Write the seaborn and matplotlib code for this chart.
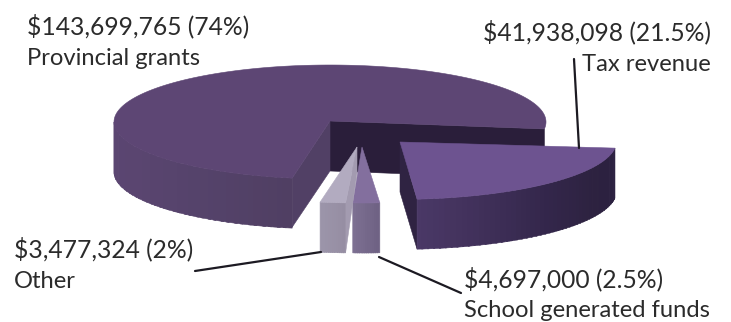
import numpy as np
import matplotlib
matplotlib.use("Agg")
import matplotlib.pyplot as plt
from matplotlib.patches import Polygon
import seaborn as sns

# Revenue sources in dollars, clockwise from the back right of the pie
categories = ["Tax revenue", "School generated funds", "Other", "Provincial grants"]
amounts = [41938098, 4697000, 3477324, 143699765]
amount_labels = ["$41,938,098 (21.5%)", "$4,697,000 (2.5%)", "$3,477,324 (2%)", "$143,699,765 (74%)"]

sns.set_theme(style="white")
plt.rcParams["font.family"] = ["Lato", "DejaVu Sans"]

fig, ax = plt.subplots(figsize=(7.31, 3.22), dpi=100)
ax.set_position([0, 0, 1, 1])
ax.set_xlim(0, 731)
ax.set_ylim(322, 0)
ax.axis("off")

# Angle range of every slice, running clockwise from the starting angle
START_ANGLE = -7.0
sweeps = np.array(amounts) / np.sum(amounts) * 360.0
ends = START_ANGLE - np.cumsum(sweeps)
starts = ends + sweeps
angle_range = dict(zip(categories, zip(starts, ends)))


def rim(cx, cy, rx, ry, a0, a1, n=120):
    t = np.radians(np.linspace(a0, a1, n))
    return np.column_stack([cx + rx * np.cos(t), cy - ry * np.sin(t)])


def fill(points, color, z):
    ax.add_patch(Polygon(points, closed=True, facecolor=color, edgecolor=color, lw=0.4, zorder=z))


def shaded_wall(edge, depth, colors, z):
    # Outer wall built from narrow strips so the shade runs along the rim
    idx = np.linspace(0, len(edge) - 1, len(colors) + 1).astype(int)
    for c, i, j in zip(colors, idx[:-1], idx[1:]):
        seg = edge[i:min(j + 2, len(edge))]
        fill(np.vstack([seg, seg[::-1] + [0, depth]]), c, z)


# Provincial grants: the large body of the pie
a0, a1 = angle_range["Provincial grants"]
cx, cy, rx, ry, depth = 330, 122, 216, 57, 50
apex = np.array([330.0, 121.0])
right_end = rim(cx, cy, rx, ry, a1, a1, 1)[0]
left_cut = rim(cx, cy, rx, ry, a0, a0, 1)[0]
fill([apex, right_end, right_end + [0, depth], apex + [0, depth]], "#2a1e3a", 1)
fill([apex, left_cut, left_cut + [0, depth - 1], apex + [0, depth]], "#514065", 2)
front = rim(cx, cy, rx, ry, -180, a0, 100)
shaded_wall(front, depth,
            sns.blend_palette(["#5b4672", "#5a4570", "#55436b", "#503f63"], 40), 3)
top = rim(cx, cy, rx, ry, a0, a1, 300)
fill(np.vstack([apex, top]), "#5d4674", 4)

# Tax revenue: pulled out to the right
a0, a1 = angle_range["Tax revenue"]
cx, cy, rx, ry, depth = 397.6, 141, 219, 58.4, 50
apex = np.array([400.0, 142.0])
edge = rim(cx, cy, rx, ry, a1, a0, 200)
fill([apex, edge[0], edge[0] + [0, depth], apex + [0, depth]], "#2f2342", 5)
shaded_wall(edge, depth,
            sns.blend_palette(["#4a3866", "#3f2f58", "#33264a", "#2d2240", "#2b2040"], 50), 6)
fill(np.vstack([apex, edge]), "#6d5390", 7)

# School generated funds: narrow slice in front
a0, a1 = angle_range["School generated funds"]
cx, cy, rx, ry, depth = 364, 147, 178, 56, 50
apex = np.array([362.0, 147.0])
edge = rim(cx, cy, rx, ry, a1, a0, 40)
shaded_wall(edge, depth, sns.blend_palette(["#7d7092", "#6f6284"], 12), 9)
fill(np.vstack([apex, edge]), "#836f9e", 10)

# Other: narrow slice next to it
a0, a1 = angle_range["Other"]
cx, cy, rx, ry, depth = 360, 147, 228, 56, 50
apex = np.array([357.0, 147.0])
edge = rim(cx, cy, rx, ry, a1, a0, 40)
fill([edge[-1], apex, apex + [0, 26], edge[-1] + [0, depth]], "#a39bb0", 11)
shaded_wall(edge, depth, sns.blend_palette(["#9c95aa", "#968ea3"], 12), 12)
fill(np.vstack([apex, edge]), "#b2abc0", 13)

# Leader lines from the slices to their labels
leaders = [((574, 59), (579, 148)), ((195, 271), (321, 252)), ((379, 257), (461, 293))]
for (x0, y0), (x1, y1) in leaders:
    sns.lineplot(x=[x0, x1], y=[y0, y1], ax=ax, color="#1c1a22", lw=1.6,
                 estimator=None, sort=False, zorder=20)

# Labels: amounts slightly larger than the category names
amount_style = dict(fontsize=17.7, color="#2b2b2b", va="baseline", zorder=30)
name_style = dict(fontsize=17.1, color="#2b2b2b", va="baseline", zorder=30)
ax.text(27, 34, amount_labels[3], **amount_style)
ax.text(27, 65, categories[3], **name_style)
ax.text(711, 40, amount_labels[0], ha="right", **amount_style)
ax.text(711, 71, categories[0], ha="right", **name_style)
ax.text(14, 257, amount_labels[2], **amount_style)
ax.text(14, 288, categories[2], **name_style)
ax.text(464, 287, amount_labels[1], **amount_style)
ax.text(464, 317, categories[1], **name_style)

fig.savefig("out.png", dpi=100)
